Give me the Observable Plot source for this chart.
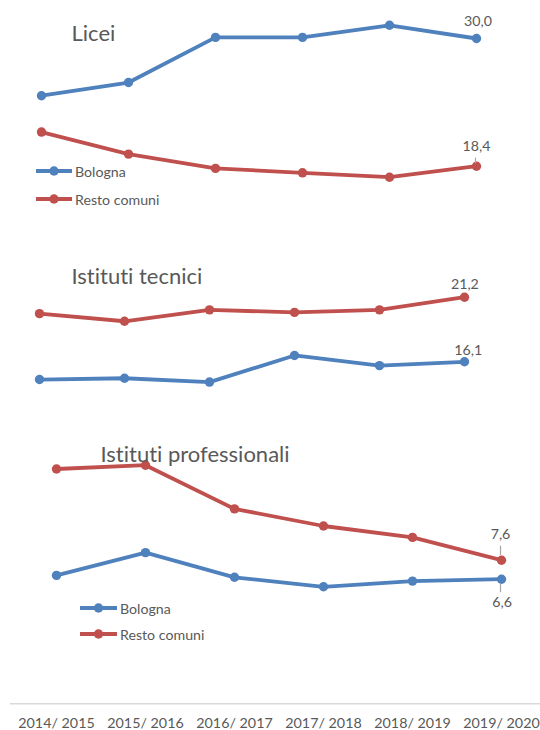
<!DOCTYPE html>
<html><head><meta charset="utf-8">
<script src="https://cdn.jsdelivr.net/npm/d3@7"></script>
<script src="https://cdn.jsdelivr.net/npm/@observablehq/plot@0.6"></script>
<style>
body{margin:0;background:#fff;}
#chart{position:relative;width:540px;height:730px;font-family:Lato,"Open Sans",sans-serif;color:#595959;font-variant-ligatures:none;}
#chart svg text{font-variant-ligatures:none;}
#chart > svg, #chart > div{position:absolute;left:0;}
.leg{font-size:14.2px;color:#595959;}
.leg .row{position:absolute;display:flex;align-items:center;white-space:nowrap;}
</style></head><body><div id="chart"></div>
<script>
// ---- data ----
const years = ["2014/ 2015", "2015/ 2016", "2016/ 2017", "2017/ 2018", "2018/ 2019", "2019/ 2020"];
const seriesNames = ["Bologna", "Resto comuni"];
const seriesColors = ["#4F81BD", "#C0504D"];
const panelTitles = ["Licei", "Istituti tecnici", "Istituti professionali"];

const liceiBologna   = [24.8, 26.0, 30.1, 30.1, 31.2, 30.0];
const liceiResto     = [21.5, 19.5, 18.2, 17.8, 17.4, 18.4];
const tecniciBologna = [14.7, 14.8, 14.5, 16.6, 15.8, 16.1];
const tecniciResto   = [19.9, 19.3, 20.2, 20.0, 20.2, 21.2];
const profBologna    = [6.8, 8.0, 6.7, 6.2, 6.5, 6.6];
const profResto      = [12.4, 12.6, 10.3, 9.4, 8.8, 7.6];

const fmt = v => d3.format(".1f")(v).replace(".", ",");
const color = {domain: seriesNames, range: seriesColors};

function table(bol, res) {
  return [
    ...years.map((y, i) => ({year: y, value: bol[i], series: seriesNames[0]})),
    ...years.map((y, i) => ({year: y, value: res[i], series: seriesNames[1]}))
  ];
}

const root = document.getElementById("chart");

function panel(cfg) {
  const data = table(cfg.bol, cfg.res);
  const last = years[years.length - 1];
  const lastPts = [
    {year: last, value: cfg.bol[5], series: seriesNames[0], ...cfg.lab[0]},
    {year: last, value: cfg.res[5], series: seriesNames[1], ...cfg.lab[1]}
  ];
  const marks = [];
  if (cfg.axis) marks.push(Plot.frame({anchor: "bottom", stroke: "#d9d9d9", strokeWidth: 1.5}));
  marks.push(
    Plot.line(data, {x: "year", y: "value", z: "series", stroke: "series", strokeWidth: 3.8, curve: "linear"}),
    Plot.dot(data, {x: "year", y: "value", fill: "series", r: 4.7}),
    Plot.text([cfg.title], {frameAnchor: "top-left", dx: cfg.tx, dy: cfg.ty, text: d => d, fontSize: 22, fill: "#595959", textAnchor: "start", lineAnchor: "bottom"})
  );
  lastPts.forEach(p => {
    if (p.lead) marks.push(Plot.ruleX([p], {x: "year", y1: "value", y2: "value", dx: p.lead[2] || 0, insetTop: p.lead[0], insetBottom: p.lead[1], stroke: "#a6a6a6", strokeWidth: 1.2}));
    marks.push(Plot.text([p], {x: "year", y: "value", text: d => fmt(d.value), dx: p.dx, dy: p.dy, fontSize: 14.2, fill: "#595959"}));
  });
  const opts = {
    width: 540, height: cfg.height,
    marginTop: 0, marginLeft: 10, marginRight: 0, marginBottom: cfg.axis ? cfg.height - cfg.axisY : 0,
    style: {fontFamily: "Lato, 'Open Sans', sans-serif", background: "transparent", overflow: "visible", fontSize: "14.3px", color: "#595959"},
    x: {type: "point", domain: years, range: cfg.xRange, padding: 0, align: 0.5, axis: cfg.axis ? "bottom" : null, tickSize: 0, tickPadding: 14.5, label: null},
    y: {domain: cfg.yDomain, range: cfg.yRange, axis: null},
    color,
    marks
  };
  const svg = Plot.plot(opts);
  svg.style.top = cfg.top + "px";
  root.appendChild(svg);
}

function legend(x, y, gap, lineW) {
  const div = document.createElement("div");
  div.className = "leg";
  div.style.left = "0px"; div.style.top = "0px";
  seriesNames.forEach((name, i) => {
    const row = document.createElement("div");
    row.className = "row";
    row.style.left = x + "px";
    row.style.top = (y + i * gap - 10) + "px";
    row.style.height = "20px";
    row.innerHTML = `<svg width="${lineW}" height="20" style="display:block"><line x1="0" x2="${lineW}" y1="10" y2="10" stroke="${seriesColors[i]}" stroke-width="3.8"/><circle cx="${lineW / 2}" cy="10" r="4.7" fill="${seriesColors[i]}"/></svg><span style="margin-left:3px">${name}</span>`;
    div.appendChild(row);
  });
  root.appendChild(div);
}

panel({title: panelTitles[0], bol: liceiBologna, res: liceiResto, top: 0, height: 240,
  xRange: [39.7, 476.7], yDomain: [18.4, 30.0], yRange: [165.7, 38], tx: 61, ty: 40.7,
  lab: [{dx: 1.5, dy: -16.7}, {dx: 0, dy: -19.7, lead: [-8, 2.4, -1]}]});
panel({title: panelTitles[1], bol: tecniciBologna, res: tecniciResto, top: 240, height: 190,
  xRange: [36.7, 466.3], yDomain: [16.1, 21.2], yRange: [121.3, 56.7], tx: 61, ty: 43.3,
  lab: [{dx: 3.7, dy: -11}, {dx: 0.4, dy: -12.7}]});
panel({title: panelTitles[2], bol: profBologna, res: profResto, top: 430, height: 300, axis: true, axisY: 273.3,
  xRange: [55, 501], yDomain: [6.6, 7.6], yRange: [148.7, 129.7], tx: 90, ty: 31.7,
  lab: [{dx: 0.7, dy: 23.6, lead: [5.3, -13.6, -1]}, {dx: -1, dy: -25.4, lead: [-14, 4.7, -1]}]});

legend(36, 171, 28, 36);
legend(80, 608.3, 26, 37);
</script>
</body></html>
